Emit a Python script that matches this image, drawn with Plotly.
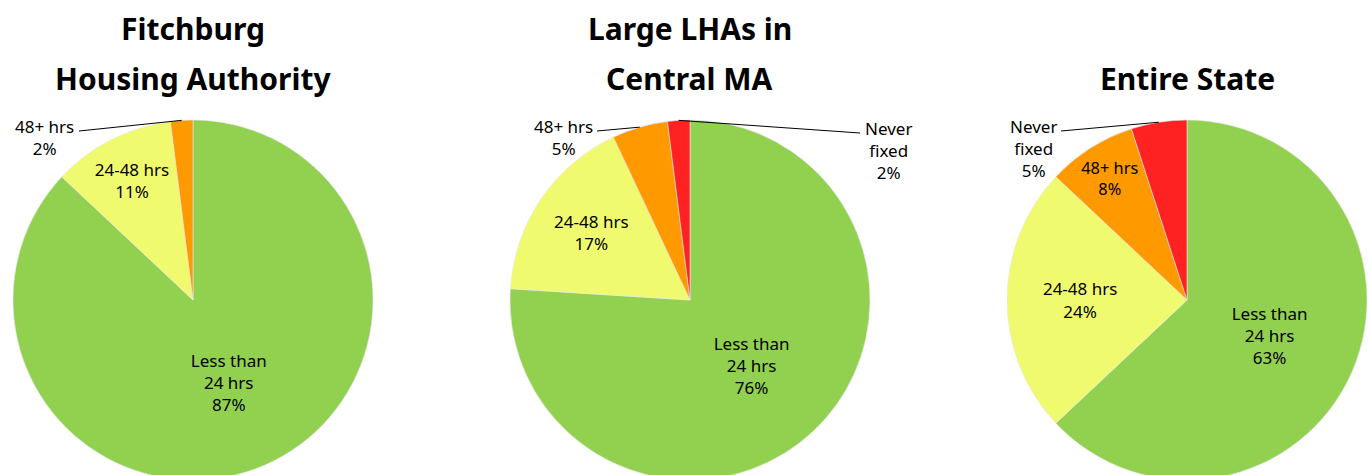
import math
import plotly.graph_objects as go

W, H = 1371, 490  # a bit taller than the window so the pies get cut at the bottom

titles = [["Fitchburg", "Housing Authority"], ["Large LHAs in", "Central MA"], ["Entire State"]]
categories = ["Less than 24 hrs", "24-48 hrs", "48+ hrs", "Never fixed"]
fitchburg = [87, 11, 2]
central_ma = [76, 17, 5, 2]
entire_state = [63, 24, 8, 5]
series = [fitchburg, central_ma, entire_state]

colors = ["#92D050", "#F0FA6E", "#FF9900", "#FF2222"]

short = ["Less than<br>24 hrs", "24-48 hrs", "48+ hrs", "Never<br>fixed"]
# slices whose label sits outside with a leader line
outside = [{2}, {2, 3}, {3}]
outside_pos = {(0, 2): (45, 137), (1, 2): (563, 137), (1, 3): (888, 150), (2, 3): (1033, 148)}

centers = [193, 690, 1187]
R = 180
top = 120
FONT = "Noto Sans"

fig = go.Figure()
ann = []
shapes = []
for i, vals in enumerate(series):
    cx = centers[i]
    texts = ["" if j in outside[i] else f"{short[j]}<br>{v}%" for j, v in enumerate(vals)]
    fig.add_trace(go.Pie(
        labels=categories[:len(vals)], values=vals, text=texts,
        textinfo="text", textposition="inside", insidetextorientation="horizontal",
        textfont=dict(family=FONT, size=17, color="black"),
        marker=dict(colors=colors[:len(vals)], line=dict(width=0.6, color="#E8E8E8")),
        sort=False, direction="clockwise", rotation=0, showlegend=False,
        hoverinfo="label+percent",
        domain=dict(x=[(cx - R) / W, (cx + R) / W], y=[(H - top - 2 * R) / H, (H - top) / H]),
    ))

    lines = titles[i]
    ys = [28, 78] if len(lines) == 2 else [78]
    for t, yy in zip(lines, ys):
        ann.append(dict(text=f"<b>{t}</b>", x=cx / W, y=1 - yy / H, xref="paper", yref="paper",
                        showarrow=False, font=dict(family=FONT, size=30, color="black"),
                        xanchor="center", yanchor="middle"))

    # outside labels, leader line goes to the middle of the slice edge
    total = sum(vals)
    cum = 0
    cy = top + R
    for j, v in enumerate(vals):
        mid = (cum + v / 2) / total
        cum += v
        if j not in outside[i]:
            continue
        ang = 2 * math.pi * mid
        tx = cx + R * math.sin(ang)
        ty = cy - R * math.cos(ang)
        lx, ly = outside_pos[(i, j)]
        label = f"{short[j]}<br>{v}%"
        ann.append(dict(text=label, x=lx / W, y=1 - ly / H, xref="paper", yref="paper",
                        showarrow=False, font=dict(family=FONT, size=17, color="black"),
                        xanchor="center", yanchor="middle"))
        nlines = label.count("<br>") + 1
        first_y = ly - (nlines - 1) * 22 / 2 + 5
        half_w = 34 if "48" in label else 28
        sx = lx + half_w if tx > lx else lx - half_w
        shapes.append(dict(type="line", xref="paper", yref="paper",
                           x0=sx / W, y0=1 - first_y / H, x1=tx / W, y1=1 - ty / H,
                           line=dict(color="black", width=1)))

fig.update_layout(width=W, height=H, margin=dict(l=0, r=0, t=0, b=0),
                  paper_bgcolor="white", plot_bgcolor="white",
                  annotations=ann, shapes=shapes)
fig.write_html("out.html", config={"displayModeBar": False},
               post_script="document.body.style.margin='0';document.body.style.overflow='hidden';")
